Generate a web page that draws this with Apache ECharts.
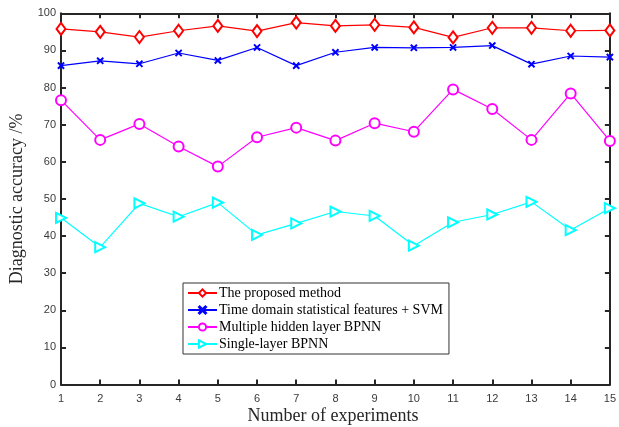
<!DOCTYPE html>
<html>
<head>
<meta charset="utf-8">
<script src="https://cdn.jsdelivr.net/npm/echarts@6/dist/echarts.min.js"></script>
<style>html,body{margin:0;padding:0;background:#fff}#c{width:619px;height:427px}</style>
</head>
<body>
<div id="c"></div>
<script>
var experiments = [1,2,3,4,5,6,7,8,9,10,11,12,13,14,15];
var proposed = [95.8,95.0,93.6,95.3,96.6,95.2,97.5,96.6,96.9,96.2,93.5,96.1,96.1,95.3,95.4];
var svm = [85.9,87.2,86.4,89.3,87.3,90.8,85.9,89.5,90.8,90.7,90.8,91.3,86.3,88.5,88.2];
var multiBPNN = [76.6,65.9,70.2,64.1,58.7,66.6,69.2,65.7,70.4,68.1,79.5,74.2,65.9,78.4,65.6];
var singleBPNN = [44.9,37.0,48.8,45.2,49.0,40.3,43.4,46.6,45.4,37.4,43.7,45.8,49.2,41.6,47.5];
var seriesNames = ['The proposed method','Time domain statistical features + SVM','Multiple hidden layer BPNN','Single-layer BPNN'];

function pairs(v){ return experiments.map(function(x,i){ return [x, v[i]]; }); }

var axisColor = '#262626';
var labelColor = '#3a3a3a';
var serif = '"Liberation Serif","Times New Roman",serif';
var sans = '"Liberation Sans",Arial,sans-serif';
var xPath = 'path://M0,1L1,0L5,4L9,0L10,1L6,5L10,9L9,10L5,6L1,10L0,9L4,5Z';

function mkSeries(name, data, color, symbol, size, rotate){
  return {
    name: name, type: 'line', data: pairs(data),
    symbol: symbol, symbolSize: size, symbolRotate: rotate || 0,
    showAllSymbol: true,
    lineStyle: {color: color, width: 1.2},
    itemStyle: {color: color, borderColor: color, borderWidth: 1.1},
    emphasis: {disabled: true},
    animation: false
  };
}

var chart = echarts.init(document.getElementById('c'), null, {renderer: 'canvas'});
chart.setOption({
  animation: false,
  grid: {left: 52.7, right: 5.7, top: 13.3, bottom: 42.5, containLabel: false},
  xAxis: [{
    type: 'value', min: 1, max: 15, interval: 1,
    axisLine: {show: true, onZero: false, lineStyle: {color: axisColor, width: 2}},
    axisTick: {show: true, inside: true, length: 5, lineStyle: {color: axisColor, width: 2}},
    axisLabel: {color: labelColor, fontFamily: sans, fontSize: 11, margin: 9},
    splitLine: {show: false}
  },{
    type: 'value', min: 1, max: 15, interval: 1, position: 'top',
    axisLine: {show: true, onZero: false, lineStyle: {color: axisColor, width: 2}},
    axisTick: {show: true, inside: true, length: 5, lineStyle: {color: axisColor, width: 2}},
    axisLabel: {show: false}, splitLine: {show: false}
  }],
  yAxis: [{
    type: 'value', min: 0, max: 100, interval: 10,
    name: 'Diagnostic accuracy /%', nameLocation: 'middle', nameGap: 35,
    nameTextStyle: {fontFamily: serif, fontSize: 18, color: axisColor},
    axisLine: {show: true, onZero: false, lineStyle: {color: axisColor, width: 2}},
    axisTick: {show: true, inside: true, length: 5, lineStyle: {color: axisColor, width: 2}},
    axisLabel: {color: labelColor, fontFamily: sans, fontSize: 11, margin: 5},
    splitLine: {show: false}
  },{
    type: 'value', min: 0, max: 100, interval: 10, position: 'right',
    axisLine: {show: true, onZero: false, lineStyle: {color: axisColor, width: 2}},
    axisTick: {show: true, inside: true, length: 5, lineStyle: {color: axisColor, width: 2}},
    axisLabel: {show: false}, splitLine: {show: false}
  }],
  legend: {
    orient: 'vertical', left: 183, top: 283,
    backgroundColor: '#fff', borderColor: '#333', borderWidth: 1,
    padding: [3, 6, 3, 4], itemGap: 3, itemWidth: 29, itemHeight: 9,
    textStyle: {fontFamily: serif, fontSize: 14, color: '#000', padding: [0,0,0,-3]},
    data: seriesNames
  },
  graphic: [{
    type: 'text', x: 333, y: 416,
    style: {text: 'Number of experiments', font: '18px ' + serif, fill: axisColor, textAlign: 'center', textVerticalAlign: 'middle'}
  }],
  series: [
    mkSeries(seriesNames[0], proposed, '#ff0000', 'emptyDiamond', [9, 12]),
    mkSeries(seriesNames[1], svm, '#0000ff', xPath, 6),
    mkSeries(seriesNames[2], multiBPNN, '#ff00ff', 'emptyCircle', 10),
    mkSeries(seriesNames[3], singleBPNN, '#00ffff', 'emptyTriangle', 10, -90)
  ]
});
</script>
</body>
</html>
